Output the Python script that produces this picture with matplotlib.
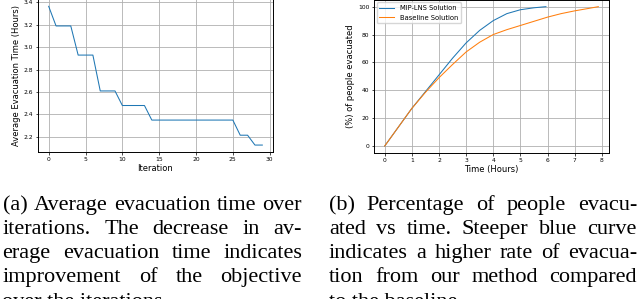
import matplotlib
matplotlib.use("Agg")
import matplotlib.pyplot as plt

# ---- data ----
iterations = list(range(30))
avg_time = [3.365, 3.19, 3.19, 3.19, 2.93, 2.93, 2.93, 2.61, 2.61, 2.61,
            2.48, 2.48, 2.48, 2.48, 2.35, 2.35, 2.35, 2.35, 2.35, 2.35,
            2.35, 2.35, 2.35, 2.35, 2.35, 2.35, 2.215, 2.215, 2.127, 2.127]

mip_time = [0, 0.5, 1.0, 1.5, 2.0, 2.5, 3.0, 3.5, 4.0, 4.5, 5.0, 5.5, 5.94]
mip_pct = [0, 13.5, 27, 39, 51, 63, 74, 83, 90, 95, 97.8, 99.2, 100]

base_time = [0, 0.5, 1.0, 1.5, 2.0, 2.5, 3.0, 3.5, 4.0, 4.5, 5.0, 5.5, 6.0,
             6.5, 7.0, 7.5, 7.87]
base_pct = [0, 13.5, 27, 38.5, 49, 58.5, 67.5, 74.5, 80, 83.5, 86.5, 89.5,
            92.5, 95, 97, 98.7, 100]

left_x_ticks = [0, 5, 10, 15, 20, 25, 30]
left_y_ticks = [2.2, 2.4, 2.6, 2.8, 3.0, 3.2, 3.4]
right_x_ticks = [0, 1, 2, 3, 4, 5, 6, 7, 8]
right_y_ticks = [0, 20, 40, 60, 80, 100]

caption_a = ["(a) Average evacuation time over",
             "iterations. The decrease in av-",
             "erage evacuation time indicates",
             "improvement of the objective",
             "over the iterations."]
caption_b = ["(b) Percentage of people evacu-",
             "ated vs time. Steeper blue curve",
             "indicates a higher rate of evacua-",
             "tion from our method compared",
             "to the baseline."]

W, H = 640, 299
fig = plt.figure(figsize=(W / 100, H / 100), dpi=100)

TICK_FS = 4.3
LABEL_FS = 6.0
LW = 0.75

def style(ax):
    ax.grid(True, color="#b0b0b0", linewidth=0.6)
    ax.set_axisbelow(True)
    ax.tick_params(labelsize=TICK_FS, length=1.8, width=0.5, pad=1.5)
    for s in ax.spines.values():
        s.set_linewidth(0.7)

# left chart
ax1 = fig.add_axes([38 / W, 1 - 152 / H, (273 - 38) / W, 152.6 / H])
ax1.plot(iterations, avg_time, color="#1f77b4", linewidth=LW)
ax1.set_xticks(left_x_ticks)
ax1.set_yticks(left_y_ticks)
ax1.set_xlabel("Iteration", fontsize=LABEL_FS, labelpad=1.5)
ax1.set_ylabel("Average Evacuation Time (Hours)", fontsize=LABEL_FS, labelpad=2)
style(ax1)

# right chart
ax2 = fig.add_axes([374 / W, 1 - 153 / H, (609 - 374) / W, 153.3 / H])
ax2.plot(mip_time, mip_pct, color="#1f77b4", linewidth=LW, label="MIP-LNS Solution")
ax2.plot(base_time, base_pct, color="#ff7f0e", linewidth=LW, label="Baseline Solution")
ax2.set_xticks(right_x_ticks)
ax2.set_yticks(right_y_ticks)
ax2.set_xlabel("Time (Hours)", fontsize=LABEL_FS, labelpad=1.5)
ax2.set_ylabel("(%) of people evacuated", fontsize=LABEL_FS, labelpad=2)
style(ax2)
ax2.legend(loc="upper left", fontsize=4.9, frameon=True, borderaxespad=0.4,
           handlelength=2.2, framealpha=0.8, edgecolor="#cccccc", fancybox=True)

# captions, justified
renderer = fig.canvas.get_renderer()
CAP_FS = 16
CAP_FAMILY = "Liberation Serif"

def put_line(text, x0, x1, baseline, justify):
    yf = 1 - baseline / H
    if not justify:
        fig.text(x0 / W, yf, text, fontsize=CAP_FS, family=CAP_FAMILY, va="baseline")
        return
    words = text.split(" ")
    arts = []
    widths = []
    for w in words:
        t = fig.text(0, yf, w, fontsize=CAP_FS, family=CAP_FAMILY, va="baseline")
        bb = t.get_window_extent(renderer)
        arts.append(t)
        widths.append(bb.width)
    gap = (x1 - x0 - sum(widths)) / max(len(words) - 1, 1)
    x = x0
    for t, wd in zip(arts, widths):
        t.set_x(x / W)
        x += wd + gap

baselines = [210, 234, 258, 282, 307]
for i, line in enumerate(caption_a):
    put_line(line, 2.5, 302, baselines[i], i < len(caption_a) - 1)
for i, line in enumerate(caption_b):
    put_line(line, 329, 637, baselines[i], i < len(caption_b) - 1)

fig.savefig("out.png", dpi=100)
